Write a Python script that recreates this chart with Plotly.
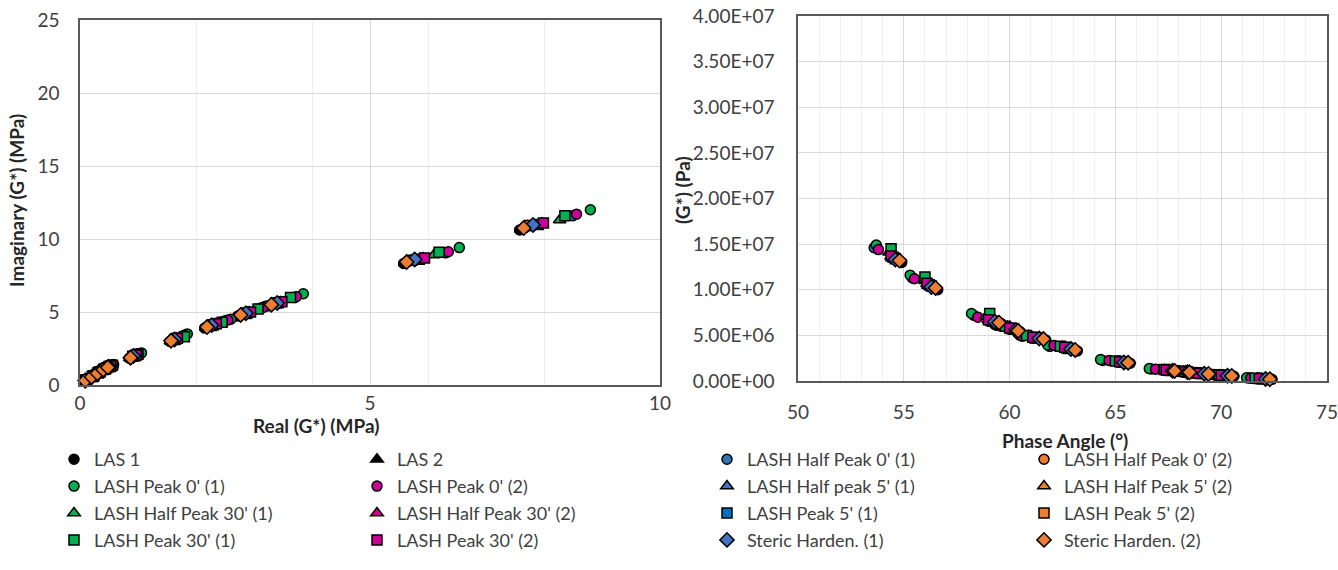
import plotly.graph_objects as go

W, H = 1338, 570

# ---- values (12 frequency points per series, low -> high modulus)
# left plot: real / imaginary parts of G* (MPa); right plot: phase angle (deg) / |G*| (Pa)
las1_re = [0.08, 0.18, 0.28, 0.38, 0.46, 0.85, 1.55, 2.15, 2.72, 3.25, 5.58, 7.58]
las1_im = [0.28, 0.52, 0.77, 1.00, 1.16, 1.83, 2.98, 3.90, 4.72, 5.42, 8.32, 10.62]
las1_pa = [72.4, 70.6, 69.5, 68.6, 67.9, 65.7, 63.2, 61.7, 60.5, 59.6, 56.6, 54.9]
las1_g = [1.8e5, 5.2e5, 7.4e5, 9.2e5, 1.06e6, 1.95e6, 3.30e6, 4.50e6, 5.40e6, 6.30e6, 1.00e7, 1.30e7]

las2_re = [0.08, 0.19, 0.29, 0.39, 0.47, 0.86, 1.56, 2.17, 2.74, 3.27, 5.60, 7.60]
las2_im = [0.29, 0.53, 0.78, 1.02, 1.18, 1.85, 3.00, 3.93, 4.75, 5.46, 8.36, 10.66]
las2_pa = [72.3, 70.5, 69.4, 68.5, 67.8, 65.6, 63.1, 61.6, 60.4, 59.5, 56.5, 54.8]
las2_g = [1.9e5, 5.3e5, 7.5e5, 9.3e5, 1.08e6, 1.97e6, 3.35e6, 4.55e6, 5.45e6, 6.35e6, 1.01e7, 1.31e7]

hp0_1_re = [0.11, 0.23, 0.34, 0.45, 0.55, 0.98, 1.78, 2.50, 3.10, 3.70, 6.30, 8.50]
hp0_1_im = [0.34, 0.62, 0.89, 1.15, 1.34, 2.10, 3.38, 4.40, 5.25, 6.00, 9.05, 11.60]
hp0_1_pa = [71.3, 69.7, 68.6, 67.9, 66.7, 64.4, 61.9, 60.5, 59.4, 58.3, 55.4, 53.6]
hp0_1_g = [3.4e5, 7.0e5, 9.4e5, 1.14e6, 1.32e6, 2.25e6, 3.80e6, 5.00e6, 6.10e6, 7.20e6, 1.13e7, 1.46e7]

hp0_2_re = [0.09, 0.20, 0.30, 0.40, 0.49, 0.88, 1.60, 2.20, 2.80, 3.32, 5.65, 7.68]
hp0_2_im = [0.30, 0.56, 0.81, 1.06, 1.22, 1.90, 3.05, 4.00, 4.83, 5.55, 8.45, 10.80]
hp0_2_pa = [72.2, 70.4, 69.3, 68.4, 67.7, 65.5, 63.0, 61.5, 60.3, 59.4, 56.4, 54.7]
hp0_2_g = [2.1e5, 5.6e5, 7.8e5, 9.6e5, 1.12e6, 2.02e6, 3.45e6, 4.62e6, 5.55e6, 6.45e6, 1.025e7, 1.325e7]

p0_1_re = [0.12, 0.25, 0.36, 0.47, 0.58, 1.06, 1.85, 2.60, 3.20, 3.85, 6.54, 8.80]
p0_1_im = [0.36, 0.65, 0.93, 1.20, 1.40, 2.20, 3.50, 4.50, 5.40, 6.25, 9.41, 12.00]
p0_1_pa = [71.2, 69.6, 68.5, 67.8, 66.6, 64.3, 61.8, 60.4, 59.3, 58.2, 55.3, 53.7]
p0_1_g = [3.6e5, 7.2e5, 9.6e5, 1.16e6, 1.36e6, 2.35e6, 3.95e6, 5.20e6, 6.20e6, 7.40e6, 1.16e7, 1.49e7]

p0_2_re = [0.11, 0.24, 0.35, 0.46, 0.56, 1.00, 1.80, 2.55, 3.15, 3.73, 6.35, 8.56]
p0_2_im = [0.35, 0.63, 0.90, 1.16, 1.36, 2.12, 3.40, 4.45, 5.30, 6.05, 9.13, 11.70]
p0_2_pa = [71.4, 69.8, 68.7, 68.0, 66.9, 64.7, 62.1, 60.6, 59.6, 58.5, 55.5, 53.8]
p0_2_g = [3.3e5, 6.8e5, 9.2e5, 1.12e6, 1.30e6, 2.25e6, 3.90e6, 4.90e6, 6.00e6, 7.00e6, 1.12e7, 1.44e7]

hp5_1_re = [0.10, 0.22, 0.32, 0.43, 0.52, 0.95, 1.66, 2.32, 2.90, 3.44, 5.90, 7.95]
hp5_1_im = [0.32, 0.59, 0.85, 1.10, 1.28, 2.02, 3.17, 4.16, 4.96, 5.66, 8.66, 11.05]
hp5_1_pa = [71.9, 70.1, 69.0, 68.3, 67.5, 65.3, 62.7, 61.2, 60.1, 59.1, 56.2, 54.5]
hp5_1_g = [2.6e5, 6.0e5, 8.3e5, 1.00e6, 1.18e6, 2.08e6, 3.65e6, 4.75e6, 5.75e6, 6.65e6, 1.06e7, 1.36e7]

hp5_2_re = [0.09, 0.21, 0.31, 0.41, 0.50, 0.90, 1.62, 2.25, 2.84, 3.36, 5.70, 7.72]
hp5_2_im = [0.31, 0.57, 0.83, 1.08, 1.25, 1.95, 3.10, 4.05, 4.88, 5.60, 8.52, 10.90]
hp5_2_pa = [72.1, 70.3, 69.2, 68.4, 67.6, 65.4, 62.9, 61.4, 60.2, 59.3, 56.3, 54.6]
hp5_2_g = [2.3e5, 5.8e5, 8.0e5, 9.8e5, 1.15e6, 2.05e6, 3.50e6, 4.68e6, 5.62e6, 6.52e6, 1.035e7, 1.335e7]

hp30_1_re = [0.11, 0.23, 0.34, 0.45, 0.55, 0.99, 1.76, 2.42, 3.02, 3.58, 6.10, 8.27]
hp30_1_im = [0.34, 0.62, 0.88, 1.14, 1.33, 2.08, 3.28, 4.27, 5.12, 5.90, 8.90, 11.30]
hp30_1_pa = [71.7, 69.9, 68.8, 68.2, 67.3, 65.1, 62.5, 60.9, 59.9, 58.9, 56.0, 54.3]
hp30_1_g = [2.9e5, 6.4e5, 8.7e5, 1.05e6, 1.24e6, 2.15e6, 3.75e6, 4.95e6, 5.95e6, 7.10e6, 1.10e7, 1.41e7]

hp30_2_re = [0.10, 0.22, 0.33, 0.44, 0.53, 0.96, 1.67, 2.33, 2.92, 3.46, 5.92, 7.97]
hp30_2_im = [0.33, 0.60, 0.86, 1.11, 1.29, 2.04, 3.18, 4.18, 4.98, 5.68, 8.68, 11.08]
hp30_2_pa = [71.8, 70.0, 68.9, 68.3, 67.4, 65.2, 62.6, 61.1, 60.0, 59.0, 56.1, 54.4]
hp30_2_g = [2.7e5, 6.1e5, 8.4e5, 1.01e6, 1.19e6, 2.09e6, 3.68e6, 4.78e6, 5.78e6, 6.68e6, 1.065e7, 1.365e7]

p5_1_re = [0.10, 0.22, 0.32, 0.43, 0.52, 0.95, 1.65, 2.30, 2.88, 3.42, 5.85, 7.90]
p5_1_im = [0.32, 0.59, 0.85, 1.10, 1.27, 2.00, 3.15, 4.12, 4.93, 5.63, 8.62, 11.00]
p5_1_pa = [71.9, 70.1, 69.0, 68.4, 67.5, 65.3, 62.7, 61.2, 60.1, 59.1, 56.2, 54.5]
p5_1_g = [2.6e5, 6.0e5, 8.2e5, 1.00e6, 1.17e6, 2.07e6, 3.62e6, 4.72e6, 5.72e6, 6.62e6, 1.055e7, 1.355e7]

p5_2_re = [0.09, 0.21, 0.31, 0.41, 0.50, 0.91, 1.63, 2.27, 2.86, 3.38, 5.72, 7.75]
p5_2_im = [0.31, 0.58, 0.83, 1.08, 1.26, 1.97, 3.12, 4.08, 4.90, 5.62, 8.55, 10.92]
p5_2_pa = [72.0, 70.2, 69.1, 68.4, 67.6, 65.4, 62.8, 61.3, 60.2, 59.2, 56.3, 54.6]
p5_2_g = [2.4e5, 5.9e5, 8.1e5, 9.9e5, 1.16e6, 2.06e6, 3.55e6, 4.70e6, 5.66e6, 6.56e6, 1.04e7, 1.34e7]

p30_1_re = [0.11, 0.24, 0.35, 0.46, 0.56, 1.00, 1.80, 2.45, 3.07, 3.63, 6.19, 8.36]
p30_1_im = [0.35, 0.63, 0.90, 1.16, 1.35, 2.10, 3.30, 4.30, 5.20, 6.00, 9.10, 11.60]
p30_1_pa = [71.6, 69.9, 68.8, 68.1, 67.3, 65.0, 62.4, 60.8, 59.8, 59.06, 56.0, 54.4]
p30_1_g = [3.0e5, 6.5e5, 8.8e5, 1.06e6, 1.25e6, 2.20e6, 3.80e6, 5.00e6, 6.00e6, 7.40e6, 1.14e7, 1.45e7]

p30_2_re = [0.10, 0.22, 0.33, 0.44, 0.53, 0.97, 1.68, 2.35, 2.94, 3.48, 5.94, 7.99]
p30_2_im = [0.33, 0.60, 0.87, 1.12, 1.30, 2.05, 3.20, 4.20, 5.00, 5.70, 8.70, 11.10]
p30_2_pa = [71.8, 70.0, 68.9, 68.3, 67.4, 65.2, 62.6, 61.1, 60.0, 59.0, 56.1, 54.4]
p30_2_g = [2.8e5, 6.2e5, 8.5e5, 1.02e6, 1.20e6, 2.10e6, 3.70e6, 4.80e6, 5.80e6, 6.70e6, 1.07e7, 1.37e7]

sh1_re = [0.09, 0.21, 0.31, 0.42, 0.50, 0.92, 1.63, 2.27, 2.86, 3.40, 5.77, 7.81]
sh1_im = [0.31, 0.58, 0.84, 1.09, 1.26, 1.98, 3.12, 4.10, 4.92, 5.62, 8.60, 10.96]
sh1_pa = [72.1, 70.3, 69.2, 68.4, 67.7, 65.4, 62.9, 61.4, 60.3, 59.3, 56.3, 54.6]
sh1_g = [2.2e5, 5.7e5, 7.9e5, 9.7e5, 1.13e6, 2.03e6, 3.50e6, 4.65e6, 5.60e6, 6.50e6, 1.03e7, 1.33e7]

sh2_re = [0.09, 0.20, 0.30, 0.40, 0.48, 0.87, 1.57, 2.19, 2.77, 3.30, 5.63, 7.65]
sh2_im = [0.30, 0.55, 0.80, 1.05, 1.20, 1.87, 3.03, 3.97, 4.80, 5.50, 8.42, 10.75]
sh2_pa = [72.3, 70.5, 69.4, 68.5, 67.8, 65.6, 63.1, 61.6, 60.4, 59.5, 56.5, 54.8]
sh2_g = [2.0e5, 5.5e5, 7.7e5, 9.5e5, 1.10e6, 2.00e6, 3.40e6, 4.60e6, 5.50e6, 6.40e6, 1.02e7, 1.32e7]

g_tickvals = [0, 5e6, 1e7, 1.5e7, 2e7, 2.5e7, 3e7, 3.5e7, 4e7]
g_ticktext = ["0.00E+00", "5.00E+06", "1.00E+07", "1.50E+07", "2.00E+07",
              "2.50E+07", "3.00E+07", "3.50E+07", "4.00E+07"]

BLACK, BLUE, BLUE2, ORANGE = "#000000", "#2E75B6", "#4472C4", "#ED7D31"
GREEN, MAGENTA = "#00B050", "#CC0099"

# name, symbol, colour, data, legend column
series = [
    ("LAS 1", "circle", BLACK, las1_re, las1_im, las1_pa, las1_g, "legend"),
    ("LAS 2", "triangle-up", BLACK, las2_re, las2_im, las2_pa, las2_g, "legend2"),
    ("LASH Half Peak 0' (1)", "circle", BLUE, hp0_1_re, hp0_1_im, hp0_1_pa, hp0_1_g, "legend3"),
    ("LASH Half Peak 0' (2)", "circle", ORANGE, hp0_2_re, hp0_2_im, hp0_2_pa, hp0_2_g, "legend4"),
    ("LASH Peak 0' (1)", "circle", GREEN, p0_1_re, p0_1_im, p0_1_pa, p0_1_g, "legend"),
    ("LASH Peak 0' (2)", "circle", MAGENTA, p0_2_re, p0_2_im, p0_2_pa, p0_2_g, "legend2"),
    ("LASH Half peak 5' (1)", "triangle-up", BLUE2, hp5_1_re, hp5_1_im, hp5_1_pa, hp5_1_g, "legend3"),
    ("LASH Half Peak 5' (2)", "triangle-up", ORANGE, hp5_2_re, hp5_2_im, hp5_2_pa, hp5_2_g, "legend4"),
    ("LASH Half Peak 30' (1)", "triangle-up", GREEN, hp30_1_re, hp30_1_im, hp30_1_pa, hp30_1_g, "legend"),
    ("LASH Half Peak 30' (2)", "triangle-up", MAGENTA, hp30_2_re, hp30_2_im, hp30_2_pa, hp30_2_g, "legend2"),
    ("LASH Peak 5' (1)", "square", "#0070C0", p5_1_re, p5_1_im, p5_1_pa, p5_1_g, "legend3"),
    ("LASH Peak 5' (2)", "square", ORANGE, p5_2_re, p5_2_im, p5_2_pa, p5_2_g, "legend4"),
    ("LASH Peak 30' (1)", "square", GREEN, p30_1_re, p30_1_im, p30_1_pa, p30_1_g, "legend"),
    ("LASH Peak 30' (2)", "square", MAGENTA, p30_2_re, p30_2_im, p30_2_pa, p30_2_g, "legend2"),
    ("Steric Harden. (1)", "diamond", BLUE2, sh1_re, sh1_im, sh1_pa, sh1_g, "legend3"),
    ("Steric Harden. (2)", "diamond", ORANGE, sh2_re, sh2_im, sh2_pa, sh2_g, "legend4"),
]

FONT = "Lato, 'Open Sans', sans-serif"
TXT = "#404040"

fig = go.Figure()
for i, (name, sym, col, re, im, pa, g, leg) in enumerate(series):
    size = 11 if sym in ("diamond", "triangle-up") else 10
    mk = dict(symbol=sym, color=col, size=size, line=dict(color="black", width=1.5))
    fig.add_scatter(x=re, y=im, mode="markers", marker=mk, name=name, legend=leg,
                    legendgroup="g%d" % i, cliponaxis=False, xaxis="x", yaxis="y")
    fig.add_scatter(x=pa, y=g, mode="markers", marker=mk, name=name, showlegend=False,
                    legendgroup="g%d" % i, cliponaxis=False, xaxis="x2", yaxis="y2")


# page pixel -> paper fraction
def px(x):
    return x / W


def py(y):
    return 1 - y / H


axis_common = dict(showline=True, linecolor="#595959", linewidth=1.5, mirror=True,
                   zeroline=False, ticks="", ticklen=0, gridcolor="#D9D9D9", gridwidth=1,
                   ticklabeloverflow="allow",
                   tickfont=dict(family=FONT, size=19, color=TXT), automargin=False)

fig.update_layout(
    width=W, height=H,
    margin=dict(l=0, r=0, t=0, b=0),
    paper_bgcolor="white", plot_bgcolor="white",
    font=dict(family=FONT, size=17, color=TXT),
    xaxis=dict(domain=[px(80), px(660)], range=[0, 10], tickvals=[0, 5, 10],
               minor=dict(tickvals=[2, 4, 6, 8], showgrid=True, gridcolor="#EEEEEE", ticks=""),
               ticklabelstandoff=0, anchor="y", **axis_common),
    yaxis=dict(domain=[py(385), py(20)], range=[0, 25], tickvals=[0, 5, 10, 15, 20, 25],
               ticklabelstandoff=15, anchor="x", **axis_common),
    xaxis2=dict(domain=[px(798), px(1327)], range=[50, 75], tickvals=[50, 55, 60, 65, 70, 75],
                minor=dict(dtick=1, showgrid=True, gridcolor="#F0F0F0", ticks=""),
                ticklabelstandoff=13, anchor="y2", **axis_common),
    yaxis2=dict(domain=[py(381), py(16)], range=[0, 4e7], tickvals=g_tickvals,
                ticktext=g_ticktext, ticklabelstandoff=18, anchor="x2", **axis_common),
)

leg_common = dict(orientation="v", xanchor="left", yanchor="top", traceorder="grouped",
                  tracegroupgap=0.5, itemwidth=30, bgcolor="rgba(0,0,0,0)",
                  font=dict(family=FONT, size=18, color=TXT), y=py(441))
fig.update_layout(
    legend=dict(x=px(54), **leg_common),
    legend2=dict(x=px(357), **leg_common),
    legend3=dict(x=px(707), **leg_common),
    legend4=dict(x=px(1024), **leg_common),
)

title_font = dict(family=FONT, size=19, color="#262626")
titles = [
    ("<b>Real (G*) (MPa)</b>", 316, 425, 0),
    ("<b>Phase Angle (°)</b>", 1065, 440, 0),
    ("<b>Imaginary (G*) (MPa)</b>", 16, 201, -90),
    ("<b>(G*) (Pa)</b>", 683, 190, -90),
]
for text, tx, ty, ang in titles:
    fig.add_annotation(x=px(tx), y=py(ty), xref="paper", yref="paper", text=text,
                       xanchor="center", yanchor="middle", showarrow=False,
                       textangle=ang, font=title_font)

# drop the default page margin so the figure sits at the window's top-left corner
fig.write_html("out.html", config={"displayModeBar": False},
               post_script="document.body.style.margin='0';")
